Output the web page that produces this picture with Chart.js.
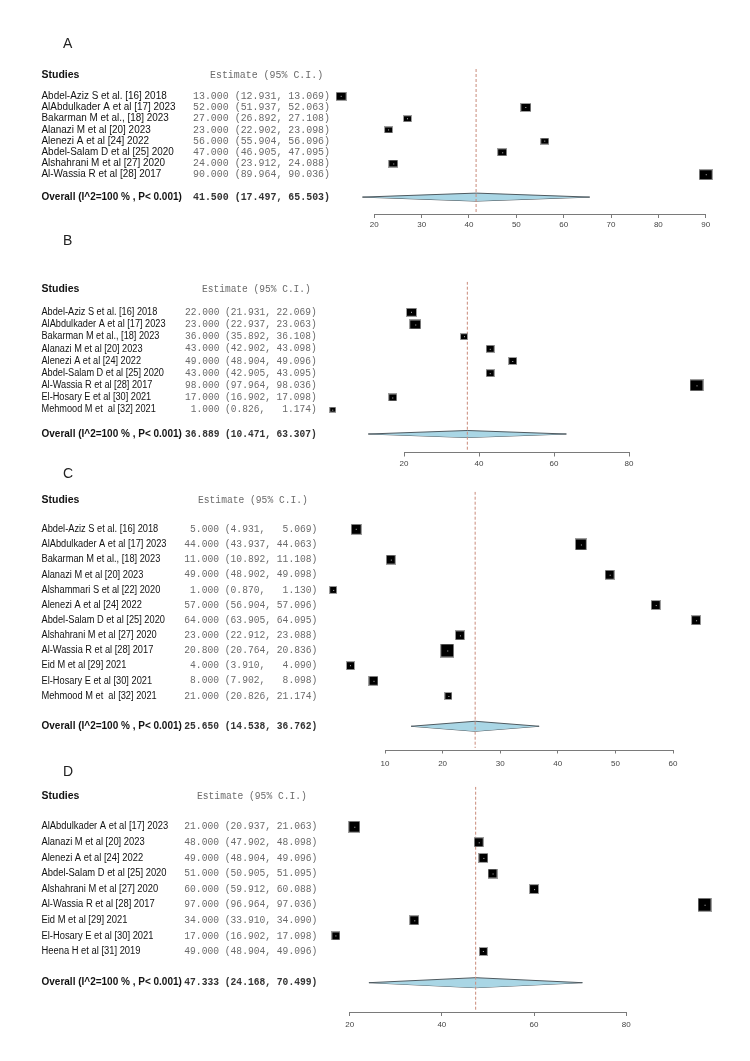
<!DOCTYPE html>
<html><head><meta charset="utf-8">
<script src="https://cdn.jsdelivr.net/npm/chart.js@4.4.1/dist/chart.umd.min.js"></script>
<style>
html,body{margin:0;padding:0;background:#fff;}
#wrap{position:relative;width:750px;height:1061px;overflow:hidden;background:#fff;}
#wrap canvas{position:absolute;left:0;top:0;}
</style></head><body><div id="wrap"></div>
<script>
// ================= DATA =================
const studiesA = ["Abdel-Aziz S et al. [16] 2018","AlAbdulkader A et al [17] 2023","Bakarman M et al., [18] 2023","Alanazi M et al [20] 2023","Alenezi A et al [24] 2022","Abdel-Salam D et al [25] 2020","Alshahrani M et al [27] 2020","Al-Wassia R et al [28] 2017"];
const estA  = [13, 52, 27, 23, 56, 47, 24, 90];
const lowA  = [12.931, 51.937, 26.892, 22.902, 55.904, 46.905, 23.912, 89.964];
const highA = [13.069, 52.063, 27.108, 23.098, 56.096, 47.095, 24.088, 90.036];
const overallA = [41.500, 17.497, 65.503];
const ticksA = [20, 30, 40, 50, 60, 70, 80, 90];
const boxesA = [9, 9, 7, 7, 7, 7.5, 7.5, 12];

const studiesB = ["Abdel-Aziz S et al. [16] 2018","AlAbdulkader A et al [17] 2023","Bakarman M et al., [18] 2023","Alanazi M et al [20] 2023","Alenezi A et al [24] 2022","Abdel-Salam D et al [25] 2020","Al-Wassia R et al [28] 2017","El-Hosary E et al [30] 2021","Mehmood M et  al [32] 2021"];
const estB  = [22, 23, 36, 43, 49, 43, 98, 17, 1];
const lowB  = [21.931, 22.937, 35.892, 42.902, 48.904, 42.905, 97.964, 16.902, 0.826];
const highB = [22.069, 23.063, 36.108, 43.098, 49.096, 43.095, 98.036, 17.098, 1.174];
const overallB = [36.889, 10.471, 63.307];
const ticksB = [20, 40, 60, 80];
const boxesB = [9, 10, 6, 7, 7, 7, 12, 7, 5];

const studiesC = ["Abdel-Aziz S et al. [16] 2018","AlAbdulkader A et al [17] 2023","Bakarman M et al., [18] 2023","Alanazi M et al [20] 2023","Alshammari S et al [22] 2020","Alenezi A et al [24] 2022","Abdel-Salam D et al [25] 2020","Alshahrani M et al [27] 2020","Al-Wassia R et al [28] 2017","Eid M et al [29] 2021","El-Hosary E et al [30] 2021","Mehmood M et  al [32] 2021"];
const estC  = [5, 44, 11, 49, 1, 57, 64, 23, 20.8, 4, 8, 21];
const lowC  = [4.931, 43.937, 10.892, 48.902, 0.870, 56.904, 63.905, 22.912, 20.764, 3.910, 7.902, 20.826];
const highC = [5.069, 44.063, 11.108, 49.098, 1.130, 57.096, 64.095, 23.088, 20.836, 4.090, 8.098, 21.174];
const overallC = [25.650, 14.538, 36.762];
const ticksC = [10, 20, 30, 40, 50, 60];
const boxesC = [8.5, 10, 7.5, 7.5, 6, 8, 8, 7.5, 12, 7, 7.5, 5.5];

const studiesD = ["AlAbdulkader A et al [17] 2023","Alanazi M et al [20] 2023","Alenezi A et al [24] 2022","Abdel-Salam D et al [25] 2020","Alshahrani M et al [27] 2020","Al-Wassia R et al [28] 2017","Eid M et al [29] 2021","El-Hosary E et al [30] 2021","Heena H et al [31] 2019"];
const estD  = [21, 48, 49, 51, 60, 97, 34, 17, 49];
const lowD  = [20.937, 47.902, 48.904, 50.905, 59.912, 96.964, 33.910, 16.902, 48.904];
const highD = [21.063, 48.098, 49.096, 51.095, 60.088, 97.036, 34.090, 17.098, 49.096];
const overallD = [47.333, 24.168, 70.499];
const ticksD = [20, 40, 60, 80];
const boxesD = [10, 8, 7.5, 7.5, 8, 12, 8, 7, 7];

const overallLabel = "Overall (I^2=100 % , P< 0.001)";

// ================= LAYOUT (pixels) =================
const W = 750, H = 1061, L = 322, R = 716, AXH = 26;
const layouts = {
  A: {labelY:44,  headerY:75,    row0:96.3,  dy:11.2,  top:69,    axisY:214,   p0:374.3, p1:705.7, nameW:134,   valX:193,   valW:137,   hdrX:210, diaH:4,   aspect:0.78, tickPad:2},
  B: {labelY:241, headerY:289.3, row0:312.3, dy:12.17, top:281.7, axisY:452.5, p0:404,   p1:629,   nameW:124,   valX:185,   valW:131.7, hdrX:202, diaH:3.5, aspect:0.8,  tickPad:2},
  C: {labelY:474, headerY:500,   row0:529.3, dy:15.15, top:491.7, axisY:749.5, p0:385,   p1:673,   nameW:125,   valX:184.3, valW:133,   hdrX:198, diaH:5,   aspect:1.0,  tickPad:5},
  D: {labelY:772, headerY:796,   row0:826.7, dy:15.6,  top:786.7, axisY:1012,  p0:349.7, p1:626.2, nameW:126.6, valX:184.3, valW:133,   hdrX:197, diaH:5,   aspect:1.0,  tickPad:3.5}
};

const panels = [
  {id:'A', studies:studiesA, est:estA, low:lowA, high:highA, overall:overallA, ticks:ticksA, boxes:boxesA},
  {id:'B', studies:studiesB, est:estB, low:lowB, high:highB, overall:overallB, ticks:ticksB, boxes:boxesB},
  {id:'C', studies:studiesC, est:estC, low:lowC, high:highC, overall:overallC, ticks:ticksC, boxes:boxesC},
  {id:'D', studies:studiesD, est:estD, low:lowD, high:highD, overall:overallD, ticks:ticksD, boxes:boxesD}
];

// ================= HELPERS =================
function fmt(e, l, h) {
  const p = v => v.toFixed(3);
  return p(e).padStart(6) + ' (' + (p(l) + ',').padEnd(7) + ' ' + p(h).padStart(6) + ')';
}
function boxImg(w, h) {
  const c = document.createElement('canvas');
  const cw = Math.round(w) + 2, ch = Math.round(h) + 2;
  c.width = cw; c.height = ch;
  const g = c.getContext('2d');
  g.fillStyle = 'rgba(140,140,140,0.85)'; g.fillRect(0, 0, cw, ch);
  g.fillStyle = '#000'; g.fillRect(1, 1, cw - 2, ch - 2);
  g.fillStyle = '#bbb'; g.fillRect(Math.floor(cw / 2), Math.floor(ch / 2), 1, 1);
  return c;
}
function scaledText(ctx, txt, x, y, font, color, targetW, refTxt) {
  ctx.save();
  ctx.font = font; ctx.fillStyle = color; ctx.textBaseline = 'middle'; ctx.textAlign = 'left';
  let sx = 1;
  if (targetW) sx = targetW / ctx.measureText(refTxt || txt).width;
  ctx.translate(x, y); ctx.scale(sx, 1);
  ctx.fillText(txt, 0, 0);
  ctx.restore();
}

const SANS = '"Liberation Sans", Arial, sans-serif';
const MONO = '"Liberation Mono", "Courier New", monospace';

function makePanel(p) {
  const lay = layouts[p.id];
  const n = p.studies.length;
  const k = (lay.p1 - lay.p0) / (p.ticks[p.ticks.length - 1] - p.ticks[0]);
  const xmin = p.ticks[0] + (L - lay.p0) / k;
  const xmax = p.ticks[0] + (R - lay.p0) / k;
  const ymin = (lay.top - lay.row0) / lay.dy;
  const ymax = (lay.axisY - lay.row0) / lay.dy;
  const ovRow = n + 1;
  const dh = lay.diaH / lay.dy;

  const canvas = document.createElement('canvas');
  canvas.width = W; canvas.height = H;
  canvas.style.width = W + 'px'; canvas.style.height = H + 'px';
  document.getElementById('wrap').appendChild(canvas);

  const textPlugin = {
    id: 'forestText' + p.id,
    afterDraw(chart) {
      const ctx = chart.ctx;
      const ys = chart.scales.y, xs = chart.scales.x;
      // axis line between first and last tick
      ctx.save();
      ctx.strokeStyle = '#7a7a7a'; ctx.lineWidth = 1;
      const yb = Math.round(chart.chartArea.bottom) + 0.5;
      ctx.beginPath();
      ctx.moveTo(xs.getPixelForValue(p.ticks[0]), yb);
      ctx.lineTo(xs.getPixelForValue(p.ticks[p.ticks.length - 1]), yb);
      ctx.stroke();
      ctx.restore();
      // panel letter
      scaledText(ctx, p.id, 63, lay.labelY, '14px ' + SANS, '#222');
      // header
      scaledText(ctx, 'Studies', 41.5, lay.headerY, 'bold 10.5px ' + SANS, '#111');
      const refVal = fmt(p.est[0], p.low[0], p.high[0]);
      ctx.save(); ctx.font = '10px ' + MONO;
      const sxv = lay.valW / ctx.measureText(refVal).width; ctx.restore();
      const hdr = 'Estimate (95% C.I.)';
      ctx.save(); ctx.font = '10px ' + MONO; const hw = ctx.measureText(hdr).width; ctx.restore();
      scaledText(ctx, hdr, lay.hdrX, lay.headerY, '10px ' + MONO, '#6a6a6a', hw * sxv);
      // rows
      const refName = 'AlAbdulkader A et al [17] 2023';
      ctx.save(); ctx.font = '10px ' + SANS; const sxn = lay.nameW / ctx.measureText(refName).width; ctx.restore();
      for (let i = 0; i < n; i++) {
        const y = ys.getPixelForValue(i);
        ctx.save(); ctx.font = '10px ' + SANS; const w = ctx.measureText(p.studies[i]).width; ctx.restore();
        scaledText(ctx, p.studies[i], 41.5, y, '10px ' + SANS, '#111', w * sxn);
        const s = fmt(p.est[i], p.low[i], p.high[i]);
        scaledText(ctx, s, lay.valX, y, '10px ' + MONO, '#6a6a6a', lay.valW);
      }
      const yo = ys.getPixelForValue(ovRow);
      ctx.save(); ctx.font = 'bold 10px ' + SANS; const ow = ctx.measureText(overallLabel).width; ctx.restore();
      scaledText(ctx, overallLabel, 41.5, yo, 'bold 10px ' + SANS, '#111', Math.min(ow, 141));
      scaledText(ctx, fmt(p.overall[0], p.overall[1], p.overall[2]), lay.valX, yo, 'bold 10px ' + MONO, '#333', lay.valW);
    }
  };

  const boxData = p.est.map((v, i) => ({x: v, y: i}));
  const boxStyles = p.boxes.map(b => boxImg(b, b * lay.aspect));
  const ov = p.overall;

  new Chart(canvas, {
    type: 'scatter',
    data: {
      datasets: [
        {type: 'scatter', data: boxData, pointStyle: boxStyles, pointRadius: 6, clip: false,
         backgroundColor: '#000', borderColor: '#000'},
        {type: 'line', data: [{x: ov[0], y: ymin}, {x: ov[0], y: ymax - 1.5 / lay.dy}], borderColor: '#c98a7a',
         borderWidth: 1, borderDash: [3, 2], pointRadius: 0, fill: false},
        {type: 'line', data: [{x: ov[1], y: ovRow}, {x: ov[0], y: ovRow - dh}, {x: ov[2], y: ovRow}],
         borderColor: '#4f5a60', borderWidth: 1, backgroundColor: '#a9d6e5', fill: '+1', pointRadius: 0, tension: 0},
        {type: 'line', data: [{x: ov[1], y: ovRow}, {x: ov[0], y: ovRow + dh}, {x: ov[2], y: ovRow}],
         borderColor: '#4f5a60', borderWidth: 1, fill: false, pointRadius: 0, tension: 0}
      ]
    },
    options: {
      responsive: false, animation: false, devicePixelRatio: 1, events: [],
      layout: {padding: {left: L, right: W - R, top: lay.top, bottom: H - lay.axisY - AXH}},
      plugins: {legend: {display: false}, tooltip: {enabled: false}},
      scales: {
        x: {
          type: 'linear', min: xmin, max: xmax, position: 'bottom',
          afterBuildTicks: s => { s.ticks = p.ticks.map(v => ({value: v})); },
          afterFit: s => { s.height = AXH; },
          grid: {drawOnChartArea: false, drawTicks: true, tickLength: 4, color: '#7a7a7a', lineWidth: 1},
          border: {display: false},
          ticks: {font: {size: 8, family: SANS}, color: '#444', padding: lay.tickPad, maxRotation: 0, autoSkip: false}
        },
        y: {type: 'linear', display: false, reverse: true, min: ymin, max: ymax}
      }
    },
    plugins: [textPlugin]
  });
}

panels.forEach(makePanel);
</script>
</body></html>
